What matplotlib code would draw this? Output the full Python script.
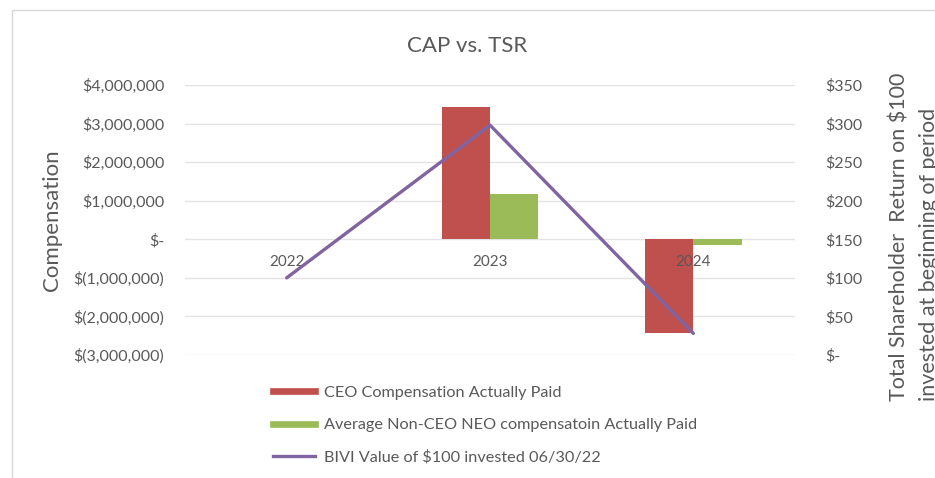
"""CAP vs. TSR: compensation actually paid against shareholder return."""

import matplotlib

matplotlib.use("Agg")

import matplotlib.pyplot as plt
import numpy as np
from matplotlib.lines import Line2D
from matplotlib.patches import Rectangle
from matplotlib.ticker import FuncFormatter

years = ["2022", "2023", "2024"]
ceo_cap = [0, 3_420_000, -2_430_000]
neo_cap = [0, 1_170_000, -150_000]
tsr_value = [100, 298, 28]

comp_ticks = [-3_000_000, -2_000_000, -1_000_000, 0, 1_000_000, 2_000_000, 3_000_000, 4_000_000]
tsr_ticks = [0, 50, 100, 150, 200, 250, 300, 350]

RED = "#C0504D"
GREEN = "#9BBB59"
PURPLE = "#8064A2"
GREY = "#595959"
GRID = "#E3E3E3"

plt.rcParams["font.family"] = ["Lato", "DejaVu Sans"]


def money(value, _pos=None):
    if value == 0:
        return "$-"
    if value < 0:
        return f"$({abs(value):,.0f})"
    return f"${value:,.0f}"


fig = plt.figure(figsize=(9.35, 4.78), dpi=100)
fig.patches.append(
    Rectangle((12 / 935, -0.1), 1.2, 1 - 10 / 478 + 0.1, transform=fig.transFigure,
              fill=False, edgecolor="#D9D9D9", linewidth=1.0)
)

ax = fig.add_axes([185 / 935, 1 - 355 / 478, 610 / 935, 270 / 478])
ax2 = ax.twinx()

x = np.arange(len(years))
width = 0.237
ax.bar(x - width / 2, ceo_cap, width, color=RED, zorder=2)
ax.bar(x + width / 2, neo_cap, width, color=GREEN, zorder=2)

ax.set_xlim(-0.5, len(years) - 0.5)
ax.set_ylim(comp_ticks[0], comp_ticks[-1])
ax.set_yticks(comp_ticks)
ax.yaxis.set_major_formatter(FuncFormatter(money))
ax.grid(axis="y", color=GRID, linewidth=1.0, zorder=0)
ax.set_xticks([])
for xi, year in zip(x, years):
    ax.text(xi, -600_000, year, ha="center", va="center", color=GREY, fontsize=11)

ax2.plot(x, tsr_value, color=PURPLE, linewidth=2.4, solid_capstyle="round")
ax2.set_ylim(tsr_ticks[0], tsr_ticks[-1])
ax2.set_yticks(tsr_ticks)
ax2.yaxis.set_major_formatter(FuncFormatter(money))

for a in (ax, ax2):
    for spine in a.spines.values():
        spine.set_visible(False)
    a.tick_params(axis="y", length=0, labelsize=11.5, labelcolor=GREY, pad=15)
ax2.tick_params(axis="y", pad=22)

ax.set_ylabel("Compensation", fontsize=16, color=GREY, labelpad=8)
fig.text(890 / 935, 1 - 237 / 478, "Total Shareholder  Return on $100\ninvested at beginning of period",
         rotation=90, ha="left", va="center", fontsize=15.5, color=GREY, linespacing=1.55)

fig.suptitle("CAP vs. TSR", x=0.5, y=1 - 46 / 478, va="center", fontsize=16, color=GREY)

handles = [
    Line2D([], [], color=RED, linewidth=4.8),
    Line2D([], [], color=GREEN, linewidth=4.8),
    Line2D([], [], color=PURPLE, linewidth=2.4),
]
labels = [
    "CEO Compensation Actually Paid",
    "Average Non-CEO NEO compensatoin Actually Paid",
    "BIVI Value of $100 invested 06/30/22",
]
fig.legend(handles, labels, loc="upper left", bbox_to_anchor=(258 / 935, 1 - 371 / 478),
           frameon=False, fontsize=11.7, labelcolor=GREY, handlelength=2.6,
           labelspacing=1.1, handletextpad=0.55)

fig.savefig("out.png", dpi=100)
